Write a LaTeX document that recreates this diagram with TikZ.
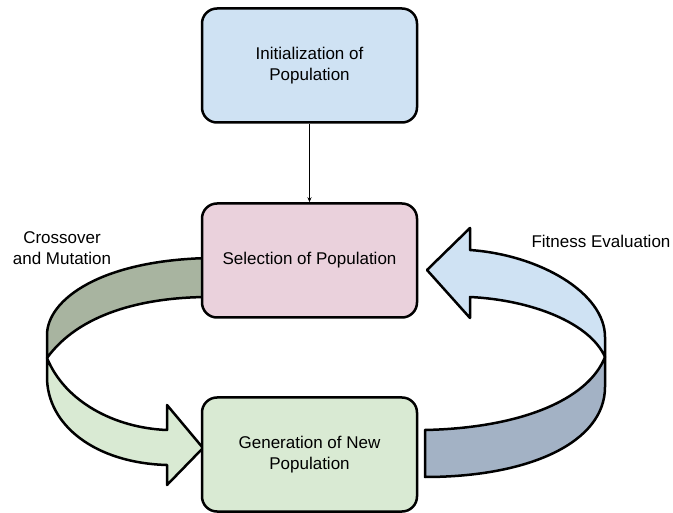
\documentclass[tikz,border=0pt]{standalone}
\usepackage{fontspec}
\setmainfont{Liberation Sans}
\usetikzlibrary{arrows.meta}

\definecolor{initblue}{HTML}{CFE2F3}
\definecolor{selpink}{HTML}{EAD1DC}
\definecolor{gengreen}{HTML}{D9EAD3}
\definecolor{xmdark}{HTML}{A8B4A0}
\definecolor{fedark}{HTML}{A3B2C5}

\tikzset{
    stagebox/.style={draw, line width=2.5pt, rounded corners=15pt,
        minimum width=215pt, minimum height=114pt, align=center},
    band/.style={draw, line width=2.5pt, line join=round},
}

\begin{document}
\begin{tikzpicture}[x=1pt,y=-1pt,font=\fontsize{17}{20.5}\selectfont]

    \useasboundingbox (0,0) rectangle (673,513);

    % ribbon arrows first, the boxes cover their ends
    \draw [band, fill=xmdark] (210,258) .. controls (100,260) and (47,300) .. (47,335)
        -- (47,358) .. controls (78,315) and (140,297) .. (210,297) -- cycle;
    \draw [band, fill=gengreen] (47,358) .. controls (65,402) and (115,428) .. (167,430)
        -- (167,405) -- (203,448) -- (167,485) -- (167,465)
        .. controls (95,463) and (47,425) .. (47,377) -- cycle;
    \draw [band, fill=fedark] (425,430) .. controls (520,428) and (588,400) .. (605,357)
        -- (605,387) .. controls (605,442) and (530,477) .. (425,477) -- cycle;
    \draw [band, fill=initblue] (605,357) -- (605,337) .. controls (605,293) and (540,255) .. (470,250)
        -- (470,228) -- (427,270) -- (470,318) -- (470,297)
        .. controls (532,300) and (590,323) .. (605,357) -- cycle;

    \foreach \nm/\col/\y/\txt in {init/initblue/65.5/{Initialization of\\Population},
                                  sel/selpink/260.5/{Selection of Population},
                                  gen/gengreen/454.5/{Generation of New\\Population}}{
        \node (\nm) at (309.5,\y) [stagebox, fill=\col] {\txt};
    }

    \draw [-{Stealth[length=5pt,width=4pt]}, line width=0.8pt] (init) -- (sel);

	 \node (xmlabel) at (62,248) [align=center, inner sep=0pt] {Crossover\\and Mutation};
	 \node (felabel) at (601,248) [anchor=base, inner sep=0pt] {Fitness Evaluation};
\end{tikzpicture}
\end{document}
